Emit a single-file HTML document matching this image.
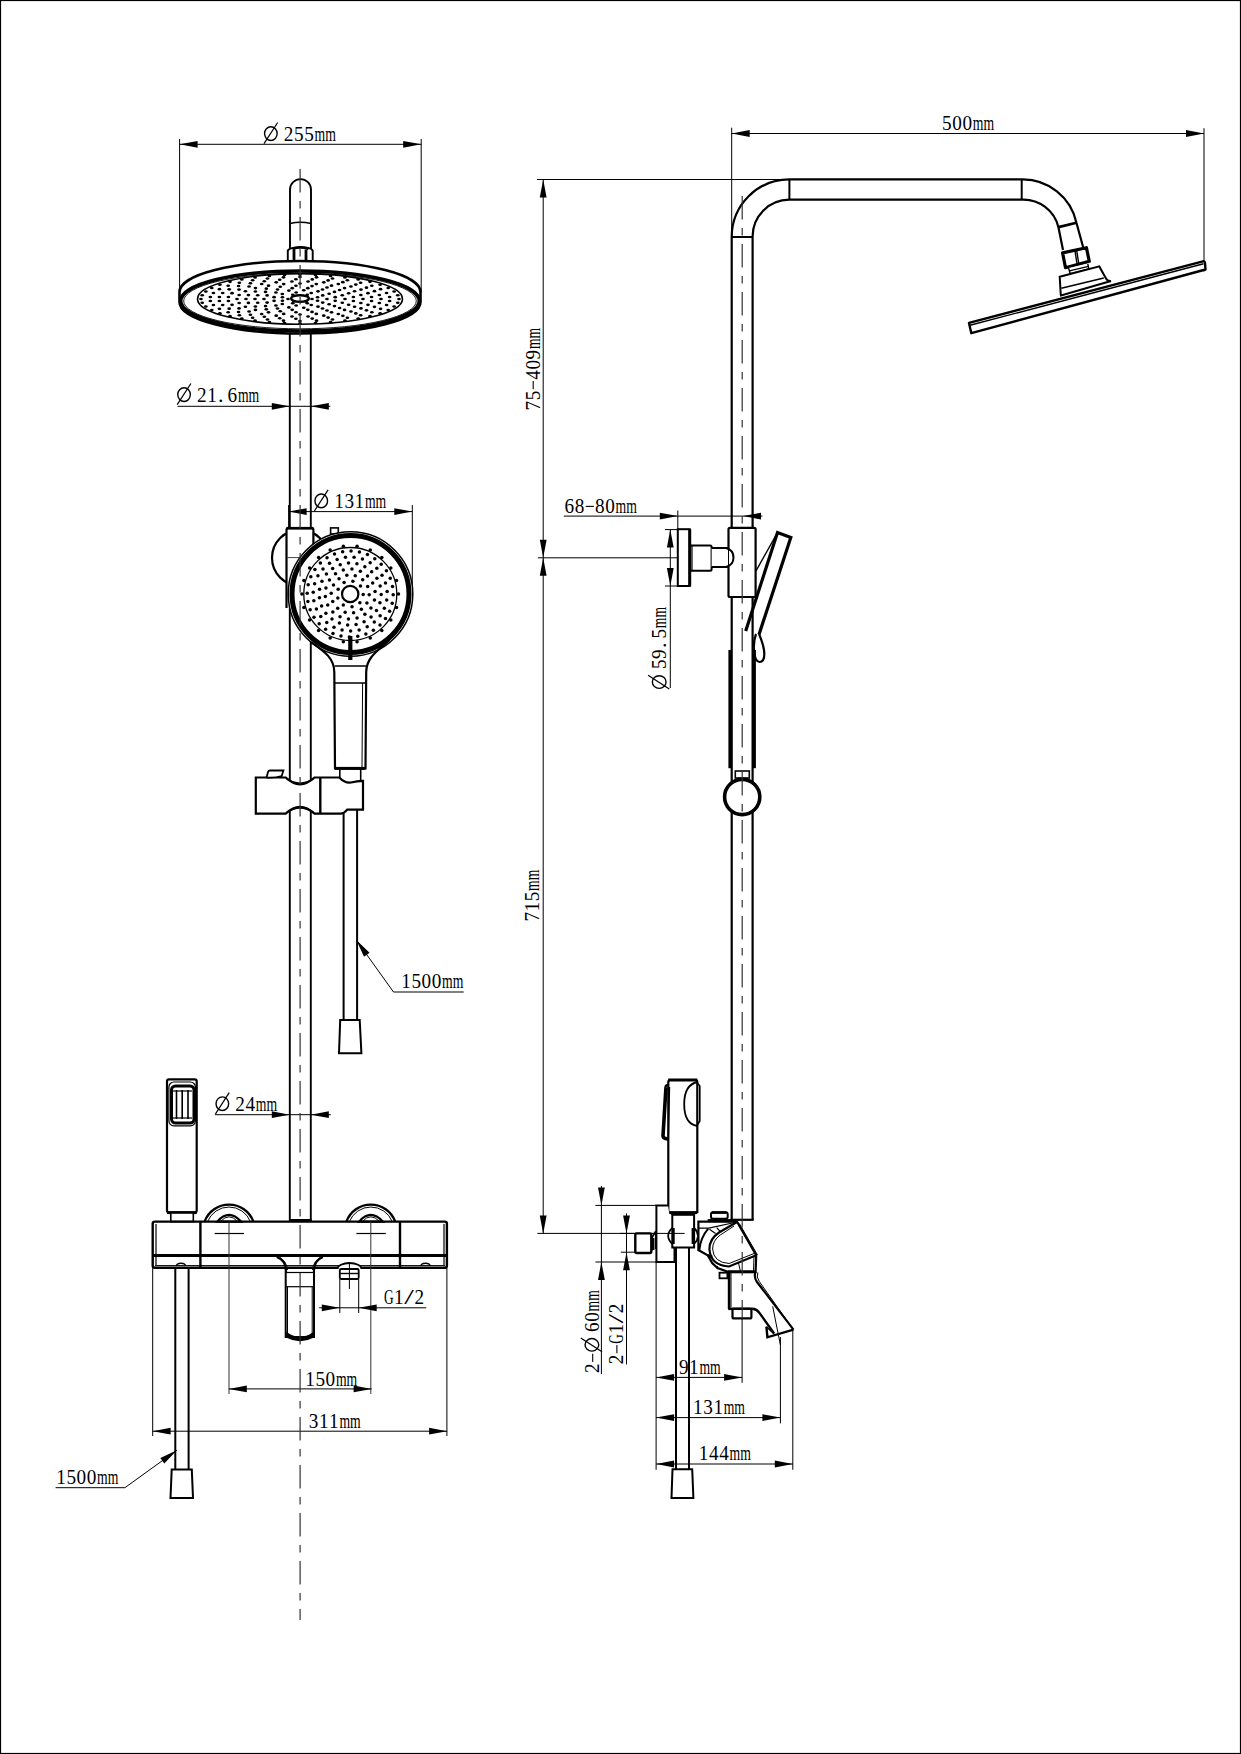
<!DOCTYPE html>
<html><head><meta charset="utf-8"><style>
html,body{margin:0;padding:0;background:#fff;}
svg{display:block;}
text{font-family:"Liberation Serif",serif;fill:#000;}
</style></head><body>
<svg width="1241" height="1754" viewBox="0 0 1241 1754">
<rect x="0.5" y="0.5" width="1240" height="1753" rx="0" fill="none" stroke="#000" stroke-width="1.2"/>
<line x1="179.6" y1="139" x2="179.6" y2="292" stroke="#000" stroke-width="1" />
<line x1="421.2" y1="139" x2="421.2" y2="292" stroke="#000" stroke-width="1" />
<line x1="179.6" y1="144.3" x2="421.2" y2="144.3" stroke="#000" stroke-width="1" />
<path d="M179.6,144.3 L197.6,140.9 L197.6,147.7 Z" fill="#000"/>
<path d="M421.2,144.3 L403.2,147.7 L403.2,140.9 Z" fill="#000"/>
<ellipse cx="270.85" cy="133.6" rx="6.3" ry="6.85" fill="none" stroke="#000" stroke-width="1.4"/>
<line x1="264" y1="143.7" x2="277.7" y2="122.5" stroke="#000" stroke-width="1.2"/>
<text x="283.8" y="140.7" font-size="22" textLength="9.6" lengthAdjust="spacingAndGlyphs">2</text>
<text x="294" y="140.7" font-size="22" textLength="9.6" lengthAdjust="spacingAndGlyphs">5</text>
<text x="304.2" y="140.7" font-size="22" textLength="9.6" lengthAdjust="spacingAndGlyphs">5</text>
<text x="314.5" y="140.7" font-size="22" textLength="21.3" lengthAdjust="spacingAndGlyphs">mm</text>
<path d="M290,248 L290,189.6 A10.5,10.5 0 0 1 311,189.6 L311,248" fill="none" stroke="#000" stroke-width="1.9" />
<path d="M290,223.5 Q300.5,221 311,223.5" fill="none" stroke="#000" stroke-width="1.5" />
<path d="M287.8,261 L287.8,250.5 L290,248.6 Q300.5,245.5 311,248.6 L312.7,250.5 L312.7,261" fill="#fff" stroke="#000" stroke-width="1.9" />
<path d="M292.5,249 Q300.5,246 308.5,249" fill="none" stroke="#000" stroke-width="2.6" />
<line x1="294" y1="249.5" x2="294" y2="261" stroke="#000" stroke-width="2.8" />
<line x1="306" y1="249.5" x2="306" y2="261" stroke="#000" stroke-width="2.8" />
<path d="M179.5,292 A120.5,31 0 0 1 420.5,292 L420.5,302 A120.5,31.5 0 0 1 179.5,302 Z" fill="#fff" stroke="#000" stroke-width="2.6" />
<ellipse cx="300" cy="301" rx="119.3" ry="30" fill="none" stroke="#000" stroke-width="3.6"/>
<ellipse cx="300" cy="301" rx="116.3" ry="27.8" fill="none" stroke="#000" stroke-width="0.9"/>
<ellipse cx="300" cy="298.9" rx="102.5" ry="25.3" fill="none" stroke="#000" stroke-width="1.6"/>
<ellipse cx="399" cy="299" rx="1.85" ry="1.3" fill="#000"/>
<ellipse cx="397.78" cy="302.79" rx="1.85" ry="1.3" fill="#000"/>
<ellipse cx="394.15" cy="306.5" rx="1.85" ry="1.3" fill="#000"/>
<ellipse cx="388.21" cy="310.01" rx="1.85" ry="1.3" fill="#000"/>
<ellipse cx="380.09" cy="313.26" rx="1.85" ry="1.3" fill="#000"/>
<ellipse cx="370" cy="316.15" rx="1.85" ry="1.3" fill="#000"/>
<ellipse cx="358.19" cy="318.62" rx="1.85" ry="1.3" fill="#000"/>
<ellipse cx="344.95" cy="320.61" rx="1.85" ry="1.3" fill="#000"/>
<ellipse cx="330.59" cy="322.07" rx="1.85" ry="1.3" fill="#000"/>
<ellipse cx="315.49" cy="322.96" rx="1.85" ry="1.3" fill="#000"/>
<ellipse cx="300" cy="323.25" rx="1.85" ry="1.3" fill="#000"/>
<ellipse cx="284.51" cy="322.96" rx="1.85" ry="1.3" fill="#000"/>
<ellipse cx="269.41" cy="322.07" rx="1.85" ry="1.3" fill="#000"/>
<ellipse cx="255.05" cy="320.61" rx="1.85" ry="1.3" fill="#000"/>
<ellipse cx="241.81" cy="318.62" rx="1.85" ry="1.3" fill="#000"/>
<ellipse cx="230" cy="316.15" rx="1.85" ry="1.3" fill="#000"/>
<ellipse cx="219.91" cy="313.26" rx="1.85" ry="1.3" fill="#000"/>
<ellipse cx="211.79" cy="310.01" rx="1.85" ry="1.3" fill="#000"/>
<ellipse cx="205.85" cy="306.5" rx="1.85" ry="1.3" fill="#000"/>
<ellipse cx="202.22" cy="302.79" rx="1.85" ry="1.3" fill="#000"/>
<ellipse cx="201" cy="299" rx="1.85" ry="1.3" fill="#000"/>
<ellipse cx="202.22" cy="295.21" rx="1.85" ry="1.3" fill="#000"/>
<ellipse cx="205.85" cy="291.5" rx="1.85" ry="1.3" fill="#000"/>
<ellipse cx="211.79" cy="287.99" rx="1.85" ry="1.3" fill="#000"/>
<ellipse cx="219.91" cy="284.74" rx="1.85" ry="1.3" fill="#000"/>
<ellipse cx="230" cy="281.85" rx="1.85" ry="1.3" fill="#000"/>
<ellipse cx="241.81" cy="279.38" rx="1.85" ry="1.3" fill="#000"/>
<ellipse cx="255.05" cy="277.39" rx="1.85" ry="1.3" fill="#000"/>
<ellipse cx="269.41" cy="275.93" rx="1.85" ry="1.3" fill="#000"/>
<ellipse cx="284.51" cy="275.04" rx="1.85" ry="1.3" fill="#000"/>
<ellipse cx="300" cy="274.75" rx="1.85" ry="1.3" fill="#000"/>
<ellipse cx="315.49" cy="275.04" rx="1.85" ry="1.3" fill="#000"/>
<ellipse cx="330.59" cy="275.93" rx="1.85" ry="1.3" fill="#000"/>
<ellipse cx="344.95" cy="277.39" rx="1.85" ry="1.3" fill="#000"/>
<ellipse cx="358.19" cy="279.38" rx="1.85" ry="1.3" fill="#000"/>
<ellipse cx="370" cy="281.85" rx="1.85" ry="1.3" fill="#000"/>
<ellipse cx="380.09" cy="284.74" rx="1.85" ry="1.3" fill="#000"/>
<ellipse cx="388.21" cy="287.99" rx="1.85" ry="1.3" fill="#000"/>
<ellipse cx="394.15" cy="291.5" rx="1.85" ry="1.3" fill="#000"/>
<ellipse cx="397.78" cy="295.21" rx="1.85" ry="1.3" fill="#000"/>
<ellipse cx="389.62" cy="301.03" rx="1.85" ry="1.3" fill="#000"/>
<ellipse cx="386.56" cy="305.03" rx="1.85" ry="1.3" fill="#000"/>
<ellipse cx="380.56" cy="308.83" rx="1.85" ry="1.3" fill="#000"/>
<ellipse cx="371.82" cy="312.29" rx="1.85" ry="1.3" fill="#000"/>
<ellipse cx="360.63" cy="315.3" rx="1.85" ry="1.3" fill="#000"/>
<ellipse cx="347.38" cy="317.75" rx="1.85" ry="1.3" fill="#000"/>
<ellipse cx="332.51" cy="319.56" rx="1.85" ry="1.3" fill="#000"/>
<ellipse cx="316.54" cy="320.67" rx="1.85" ry="1.3" fill="#000"/>
<ellipse cx="300" cy="321.05" rx="1.85" ry="1.3" fill="#000"/>
<ellipse cx="283.46" cy="320.67" rx="1.85" ry="1.3" fill="#000"/>
<ellipse cx="267.49" cy="319.56" rx="1.85" ry="1.3" fill="#000"/>
<ellipse cx="252.62" cy="317.75" rx="1.85" ry="1.3" fill="#000"/>
<ellipse cx="239.37" cy="315.3" rx="1.85" ry="1.3" fill="#000"/>
<ellipse cx="228.18" cy="312.29" rx="1.85" ry="1.3" fill="#000"/>
<ellipse cx="219.44" cy="308.83" rx="1.85" ry="1.3" fill="#000"/>
<ellipse cx="213.44" cy="305.03" rx="1.85" ry="1.3" fill="#000"/>
<ellipse cx="210.38" cy="301.03" rx="1.85" ry="1.3" fill="#000"/>
<ellipse cx="210.38" cy="296.97" rx="1.85" ry="1.3" fill="#000"/>
<ellipse cx="213.44" cy="292.97" rx="1.85" ry="1.3" fill="#000"/>
<ellipse cx="219.44" cy="289.17" rx="1.85" ry="1.3" fill="#000"/>
<ellipse cx="228.18" cy="285.71" rx="1.85" ry="1.3" fill="#000"/>
<ellipse cx="239.37" cy="282.7" rx="1.85" ry="1.3" fill="#000"/>
<ellipse cx="252.62" cy="280.25" rx="1.85" ry="1.3" fill="#000"/>
<ellipse cx="267.49" cy="278.44" rx="1.85" ry="1.3" fill="#000"/>
<ellipse cx="283.46" cy="277.33" rx="1.85" ry="1.3" fill="#000"/>
<ellipse cx="300" cy="276.95" rx="1.85" ry="1.3" fill="#000"/>
<ellipse cx="316.54" cy="277.33" rx="1.85" ry="1.3" fill="#000"/>
<ellipse cx="332.51" cy="278.44" rx="1.85" ry="1.3" fill="#000"/>
<ellipse cx="347.38" cy="280.25" rx="1.85" ry="1.3" fill="#000"/>
<ellipse cx="360.63" cy="282.7" rx="1.85" ry="1.3" fill="#000"/>
<ellipse cx="371.82" cy="285.71" rx="1.85" ry="1.3" fill="#000"/>
<ellipse cx="380.56" cy="289.17" rx="1.85" ry="1.3" fill="#000"/>
<ellipse cx="386.56" cy="292.97" rx="1.85" ry="1.3" fill="#000"/>
<ellipse cx="389.62" cy="296.97" rx="1.85" ry="1.3" fill="#000"/>
<ellipse cx="381" cy="299" rx="1.85" ry="1.3" fill="#000"/>
<ellipse cx="379.34" cy="302.99" rx="1.85" ry="1.3" fill="#000"/>
<ellipse cx="374.44" cy="306.83" rx="1.85" ry="1.3" fill="#000"/>
<ellipse cx="366.48" cy="310.34" rx="1.85" ry="1.3" fill="#000"/>
<ellipse cx="355.81" cy="313.38" rx="1.85" ry="1.3" fill="#000"/>
<ellipse cx="342.85" cy="315.84" rx="1.85" ry="1.3" fill="#000"/>
<ellipse cx="328.13" cy="317.61" rx="1.85" ry="1.3" fill="#000"/>
<ellipse cx="312.27" cy="318.62" rx="1.85" ry="1.3" fill="#000"/>
<ellipse cx="295.9" cy="318.82" rx="1.85" ry="1.3" fill="#000"/>
<ellipse cx="279.7" cy="318.21" rx="1.85" ry="1.3" fill="#000"/>
<ellipse cx="264.33" cy="316.82" rx="1.85" ry="1.3" fill="#000"/>
<ellipse cx="250.42" cy="314.69" rx="1.85" ry="1.3" fill="#000"/>
<ellipse cx="238.54" cy="311.93" rx="1.85" ry="1.3" fill="#000"/>
<ellipse cx="229.18" cy="308.63" rx="1.85" ry="1.3" fill="#000"/>
<ellipse cx="222.71" cy="304.94" rx="1.85" ry="1.3" fill="#000"/>
<ellipse cx="219.42" cy="301.01" rx="1.85" ry="1.3" fill="#000"/>
<ellipse cx="219.42" cy="296.99" rx="1.85" ry="1.3" fill="#000"/>
<ellipse cx="222.71" cy="293.06" rx="1.85" ry="1.3" fill="#000"/>
<ellipse cx="229.18" cy="289.37" rx="1.85" ry="1.3" fill="#000"/>
<ellipse cx="238.54" cy="286.07" rx="1.85" ry="1.3" fill="#000"/>
<ellipse cx="250.42" cy="283.31" rx="1.85" ry="1.3" fill="#000"/>
<ellipse cx="264.33" cy="281.18" rx="1.85" ry="1.3" fill="#000"/>
<ellipse cx="279.7" cy="279.79" rx="1.85" ry="1.3" fill="#000"/>
<ellipse cx="295.9" cy="279.18" rx="1.85" ry="1.3" fill="#000"/>
<ellipse cx="312.27" cy="279.38" rx="1.85" ry="1.3" fill="#000"/>
<ellipse cx="328.13" cy="280.39" rx="1.85" ry="1.3" fill="#000"/>
<ellipse cx="342.85" cy="282.16" rx="1.85" ry="1.3" fill="#000"/>
<ellipse cx="355.81" cy="284.62" rx="1.85" ry="1.3" fill="#000"/>
<ellipse cx="366.48" cy="287.66" rx="1.85" ry="1.3" fill="#000"/>
<ellipse cx="374.44" cy="291.17" rx="1.85" ry="1.3" fill="#000"/>
<ellipse cx="379.34" cy="295.01" rx="1.85" ry="1.3" fill="#000"/>
<ellipse cx="371.55" cy="300.98" rx="1.85" ry="1.3" fill="#000"/>
<ellipse cx="367.96" cy="304.83" rx="1.85" ry="1.3" fill="#000"/>
<ellipse cx="360.96" cy="308.39" rx="1.85" ry="1.3" fill="#000"/>
<ellipse cx="350.91" cy="311.47" rx="1.85" ry="1.3" fill="#000"/>
<ellipse cx="338.31" cy="313.94" rx="1.85" ry="1.3" fill="#000"/>
<ellipse cx="323.78" cy="315.65" rx="1.85" ry="1.3" fill="#000"/>
<ellipse cx="308.06" cy="316.53" rx="1.85" ry="1.3" fill="#000"/>
<ellipse cx="291.94" cy="316.53" rx="1.85" ry="1.3" fill="#000"/>
<ellipse cx="276.22" cy="315.65" rx="1.85" ry="1.3" fill="#000"/>
<ellipse cx="261.69" cy="313.94" rx="1.85" ry="1.3" fill="#000"/>
<ellipse cx="249.09" cy="311.47" rx="1.85" ry="1.3" fill="#000"/>
<ellipse cx="239.04" cy="308.39" rx="1.85" ry="1.3" fill="#000"/>
<ellipse cx="232.04" cy="304.83" rx="1.85" ry="1.3" fill="#000"/>
<ellipse cx="228.45" cy="300.98" rx="1.85" ry="1.3" fill="#000"/>
<ellipse cx="228.45" cy="297.02" rx="1.85" ry="1.3" fill="#000"/>
<ellipse cx="232.04" cy="293.17" rx="1.85" ry="1.3" fill="#000"/>
<ellipse cx="239.04" cy="289.61" rx="1.85" ry="1.3" fill="#000"/>
<ellipse cx="249.09" cy="286.53" rx="1.85" ry="1.3" fill="#000"/>
<ellipse cx="261.69" cy="284.06" rx="1.85" ry="1.3" fill="#000"/>
<ellipse cx="276.22" cy="282.35" rx="1.85" ry="1.3" fill="#000"/>
<ellipse cx="291.94" cy="281.47" rx="1.85" ry="1.3" fill="#000"/>
<ellipse cx="308.06" cy="281.47" rx="1.85" ry="1.3" fill="#000"/>
<ellipse cx="323.78" cy="282.35" rx="1.85" ry="1.3" fill="#000"/>
<ellipse cx="338.31" cy="284.06" rx="1.85" ry="1.3" fill="#000"/>
<ellipse cx="350.91" cy="286.53" rx="1.85" ry="1.3" fill="#000"/>
<ellipse cx="360.96" cy="289.61" rx="1.85" ry="1.3" fill="#000"/>
<ellipse cx="367.96" cy="293.17" rx="1.85" ry="1.3" fill="#000"/>
<ellipse cx="371.55" cy="297.02" rx="1.85" ry="1.3" fill="#000"/>
<ellipse cx="363" cy="299" rx="1.85" ry="1.3" fill="#000"/>
<ellipse cx="360.85" cy="302.99" rx="1.85" ry="1.3" fill="#000"/>
<ellipse cx="354.56" cy="306.72" rx="1.85" ry="1.3" fill="#000"/>
<ellipse cx="344.55" cy="309.91" rx="1.85" ry="1.3" fill="#000"/>
<ellipse cx="331.5" cy="312.37" rx="1.85" ry="1.3" fill="#000"/>
<ellipse cx="316.31" cy="313.91" rx="1.85" ry="1.3" fill="#000"/>
<ellipse cx="300" cy="314.44" rx="1.85" ry="1.3" fill="#000"/>
<ellipse cx="283.69" cy="313.91" rx="1.85" ry="1.3" fill="#000"/>
<ellipse cx="268.5" cy="312.37" rx="1.85" ry="1.3" fill="#000"/>
<ellipse cx="255.45" cy="309.91" rx="1.85" ry="1.3" fill="#000"/>
<ellipse cx="245.44" cy="306.72" rx="1.85" ry="1.3" fill="#000"/>
<ellipse cx="239.15" cy="302.99" rx="1.85" ry="1.3" fill="#000"/>
<ellipse cx="237" cy="299" rx="1.85" ry="1.3" fill="#000"/>
<ellipse cx="239.15" cy="295.01" rx="1.85" ry="1.3" fill="#000"/>
<ellipse cx="245.44" cy="291.28" rx="1.85" ry="1.3" fill="#000"/>
<ellipse cx="255.45" cy="288.09" rx="1.85" ry="1.3" fill="#000"/>
<ellipse cx="268.5" cy="285.63" rx="1.85" ry="1.3" fill="#000"/>
<ellipse cx="283.69" cy="284.09" rx="1.85" ry="1.3" fill="#000"/>
<ellipse cx="300" cy="283.56" rx="1.85" ry="1.3" fill="#000"/>
<ellipse cx="316.31" cy="284.09" rx="1.85" ry="1.3" fill="#000"/>
<ellipse cx="331.5" cy="285.63" rx="1.85" ry="1.3" fill="#000"/>
<ellipse cx="344.55" cy="288.09" rx="1.85" ry="1.3" fill="#000"/>
<ellipse cx="354.56" cy="291.28" rx="1.85" ry="1.3" fill="#000"/>
<ellipse cx="360.85" cy="295.01" rx="1.85" ry="1.3" fill="#000"/>
<ellipse cx="353.4" cy="300.97" rx="1.85" ry="1.3" fill="#000"/>
<ellipse cx="348.65" cy="304.74" rx="1.85" ry="1.3" fill="#000"/>
<ellipse cx="339.58" cy="308" rx="1.85" ry="1.3" fill="#000"/>
<ellipse cx="327" cy="310.46" rx="1.85" ry="1.3" fill="#000"/>
<ellipse cx="312.02" cy="311.9" rx="1.85" ry="1.3" fill="#000"/>
<ellipse cx="295.96" cy="312.19" rx="1.85" ry="1.3" fill="#000"/>
<ellipse cx="280.27" cy="311.32" rx="1.85" ry="1.3" fill="#000"/>
<ellipse cx="266.33" cy="309.34" rx="1.85" ry="1.3" fill="#000"/>
<ellipse cx="255.38" cy="306.45" rx="1.85" ry="1.3" fill="#000"/>
<ellipse cx="248.4" cy="302.9" rx="1.85" ry="1.3" fill="#000"/>
<ellipse cx="246" cy="299" rx="1.85" ry="1.3" fill="#000"/>
<ellipse cx="248.4" cy="295.1" rx="1.85" ry="1.3" fill="#000"/>
<ellipse cx="255.38" cy="291.55" rx="1.85" ry="1.3" fill="#000"/>
<ellipse cx="266.33" cy="288.66" rx="1.85" ry="1.3" fill="#000"/>
<ellipse cx="280.27" cy="286.68" rx="1.85" ry="1.3" fill="#000"/>
<ellipse cx="295.96" cy="285.81" rx="1.85" ry="1.3" fill="#000"/>
<ellipse cx="312.02" cy="286.1" rx="1.85" ry="1.3" fill="#000"/>
<ellipse cx="327" cy="287.54" rx="1.85" ry="1.3" fill="#000"/>
<ellipse cx="339.58" cy="290" rx="1.85" ry="1.3" fill="#000"/>
<ellipse cx="348.65" cy="293.26" rx="1.85" ry="1.3" fill="#000"/>
<ellipse cx="353.4" cy="297.03" rx="1.85" ry="1.3" fill="#000"/>
<ellipse cx="345" cy="299" rx="1.85" ry="1.3" fill="#000"/>
<ellipse cx="342.29" cy="302.77" rx="1.85" ry="1.3" fill="#000"/>
<ellipse cx="334.47" cy="306.09" rx="1.85" ry="1.3" fill="#000"/>
<ellipse cx="322.5" cy="308.55" rx="1.85" ry="1.3" fill="#000"/>
<ellipse cx="307.81" cy="309.86" rx="1.85" ry="1.3" fill="#000"/>
<ellipse cx="292.19" cy="309.86" rx="1.85" ry="1.3" fill="#000"/>
<ellipse cx="277.5" cy="308.55" rx="1.85" ry="1.3" fill="#000"/>
<ellipse cx="265.53" cy="306.09" rx="1.85" ry="1.3" fill="#000"/>
<ellipse cx="257.71" cy="302.77" rx="1.85" ry="1.3" fill="#000"/>
<ellipse cx="255" cy="299" rx="1.85" ry="1.3" fill="#000"/>
<ellipse cx="257.71" cy="295.23" rx="1.85" ry="1.3" fill="#000"/>
<ellipse cx="265.53" cy="291.91" rx="1.85" ry="1.3" fill="#000"/>
<ellipse cx="277.5" cy="289.45" rx="1.85" ry="1.3" fill="#000"/>
<ellipse cx="292.19" cy="288.14" rx="1.85" ry="1.3" fill="#000"/>
<ellipse cx="307.81" cy="288.14" rx="1.85" ry="1.3" fill="#000"/>
<ellipse cx="322.5" cy="289.45" rx="1.85" ry="1.3" fill="#000"/>
<ellipse cx="334.47" cy="291.91" rx="1.85" ry="1.3" fill="#000"/>
<ellipse cx="342.29" cy="295.23" rx="1.85" ry="1.3" fill="#000"/>
<ellipse cx="335.21" cy="300.83" rx="1.85" ry="1.3" fill="#000"/>
<ellipse cx="329.12" cy="304.18" rx="1.85" ry="1.3" fill="#000"/>
<ellipse cx="318" cy="306.64" rx="1.85" ry="1.3" fill="#000"/>
<ellipse cx="303.76" cy="307.77" rx="1.85" ry="1.3" fill="#000"/>
<ellipse cx="288.88" cy="307.39" rx="1.85" ry="1.3" fill="#000"/>
<ellipse cx="275.91" cy="305.55" rx="1.85" ry="1.3" fill="#000"/>
<ellipse cx="267.11" cy="302.59" rx="1.85" ry="1.3" fill="#000"/>
<ellipse cx="264" cy="299" rx="1.85" ry="1.3" fill="#000"/>
<ellipse cx="267.11" cy="295.41" rx="1.85" ry="1.3" fill="#000"/>
<ellipse cx="275.91" cy="292.45" rx="1.85" ry="1.3" fill="#000"/>
<ellipse cx="288.88" cy="290.61" rx="1.85" ry="1.3" fill="#000"/>
<ellipse cx="303.76" cy="290.23" rx="1.85" ry="1.3" fill="#000"/>
<ellipse cx="318" cy="291.36" rx="1.85" ry="1.3" fill="#000"/>
<ellipse cx="329.12" cy="293.82" rx="1.85" ry="1.3" fill="#000"/>
<ellipse cx="335.21" cy="297.17" rx="1.85" ry="1.3" fill="#000"/>
<ellipse cx="327" cy="299" rx="1.85" ry="1.3" fill="#000"/>
<ellipse cx="322.71" cy="302.58" rx="1.85" ry="1.3" fill="#000"/>
<ellipse cx="311.22" cy="305.02" rx="1.85" ry="1.3" fill="#000"/>
<ellipse cx="296.16" cy="305.55" rx="1.85" ry="1.3" fill="#000"/>
<ellipse cx="282.32" cy="304" rx="1.85" ry="1.3" fill="#000"/>
<ellipse cx="274.09" cy="300.86" rx="1.85" ry="1.3" fill="#000"/>
<ellipse cx="274.09" cy="297.14" rx="1.85" ry="1.3" fill="#000"/>
<ellipse cx="282.32" cy="294" rx="1.85" ry="1.3" fill="#000"/>
<ellipse cx="296.16" cy="292.45" rx="1.85" ry="1.3" fill="#000"/>
<ellipse cx="311.22" cy="292.98" rx="1.85" ry="1.3" fill="#000"/>
<ellipse cx="322.71" cy="295.42" rx="1.85" ry="1.3" fill="#000"/>
<ellipse cx="317.55" cy="300.78" rx="1.85" ry="1.3" fill="#000"/>
<ellipse cx="307.27" cy="303.3" rx="1.85" ry="1.3" fill="#000"/>
<ellipse cx="292.73" cy="303.3" rx="1.85" ry="1.3" fill="#000"/>
<ellipse cx="282.45" cy="300.78" rx="1.85" ry="1.3" fill="#000"/>
<ellipse cx="282.45" cy="297.22" rx="1.85" ry="1.3" fill="#000"/>
<ellipse cx="292.73" cy="294.7" rx="1.85" ry="1.3" fill="#000"/>
<ellipse cx="307.27" cy="294.7" rx="1.85" ry="1.3" fill="#000"/>
<ellipse cx="317.55" cy="297.22" rx="1.85" ry="1.3" fill="#000"/>
<ellipse cx="312" cy="299" rx="1.85" ry="1.3" fill="#000"/>
<ellipse cx="306" cy="301.55" rx="1.85" ry="1.3" fill="#000"/>
<ellipse cx="294" cy="301.55" rx="1.85" ry="1.3" fill="#000"/>
<ellipse cx="288" cy="299" rx="1.85" ry="1.3" fill="#000"/>
<ellipse cx="294" cy="296.45" rx="1.85" ry="1.3" fill="#000"/>
<ellipse cx="306" cy="296.45" rx="1.85" ry="1.3" fill="#000"/>
<ellipse cx="300" cy="298.5" rx="8.8" ry="3.2" fill="#fff" stroke="#000" stroke-width="2.4"/>
<line x1="289.8" y1="333" x2="289.8" y2="1221" stroke="#000" stroke-width="1.9" />
<line x1="310.8" y1="333" x2="310.8" y2="1221" stroke="#000" stroke-width="1.9" />
<line x1="177.6" y1="406.3" x2="330.3" y2="406.3" stroke="#000" stroke-width="1" />
<path d="M289.8,406.3 L271.8,409.7 L271.8,402.9 Z" fill="#000"/>
<path d="M310.8,406.3 L328.8,402.9 L328.8,409.7 Z" fill="#000"/>
<ellipse cx="184.05" cy="394.6" rx="6.3" ry="6.85" fill="none" stroke="#000" stroke-width="1.4"/>
<line x1="177.2" y1="404.7" x2="190.9" y2="383.5" stroke="#000" stroke-width="1.2"/>
<text x="197" y="401.7" font-size="22" textLength="9.6" lengthAdjust="spacingAndGlyphs">2</text>
<text x="207.2" y="401.7" font-size="22" textLength="9.6" lengthAdjust="spacingAndGlyphs">1</text>
<text x="218" y="401.7" font-size="22">.</text>
<text x="227.6" y="401.7" font-size="22" textLength="9.6" lengthAdjust="spacingAndGlyphs">6</text>
<text x="237.9" y="401.7" font-size="22" textLength="21.3" lengthAdjust="spacingAndGlyphs">mm</text>
<line x1="288.6" y1="505" x2="288.6" y2="528" stroke="#000" stroke-width="1" />
<line x1="412.3" y1="505" x2="412.3" y2="594" stroke="#000" stroke-width="1" />
<line x1="288.6" y1="511.6" x2="412.3" y2="511.6" stroke="#000" stroke-width="1" />
<path d="M288.6,511.6 L306.6,508.2 L306.6,515 Z" fill="#000"/>
<path d="M412.3,511.6 L394.3,515 L394.3,508.2 Z" fill="#000"/>
<ellipse cx="321.25" cy="500.9" rx="6.3" ry="6.85" fill="none" stroke="#000" stroke-width="1.4"/>
<line x1="314.4" y1="511" x2="328.1" y2="489.8" stroke="#000" stroke-width="1.2"/>
<text x="334.2" y="508" font-size="22" textLength="9.6" lengthAdjust="spacingAndGlyphs">1</text>
<text x="344.4" y="508" font-size="22" textLength="9.6" lengthAdjust="spacingAndGlyphs">3</text>
<text x="354.6" y="508" font-size="22" textLength="9.6" lengthAdjust="spacingAndGlyphs">1</text>
<text x="364.9" y="508" font-size="22" textLength="21.3" lengthAdjust="spacingAndGlyphs">mm</text>
<circle cx="300" cy="557.8" r="28" fill="#fff" stroke="#000" stroke-width="2.2"/>
<rect x="286.5" y="528.2" width="26.9" height="80" fill="#fff"/>
<path d="M286.5,608 L286.5,530 Q286.5,528.2 288.5,528.2 L311.4,528.2 Q313.4,528.2 313.4,530 L313.4,580" fill="none" stroke="#000" stroke-width="2.2" />
<line x1="286.5" y1="528.2" x2="313.4" y2="528.2" stroke="#000" stroke-width="2.6" />
<line x1="287" y1="557.6" x2="314.5" y2="557.6" stroke="#444" stroke-width="1" />
<rect x="330.6" y="527.9" width="7.7" height="6.1" rx="0" fill="#fff" stroke="#000" stroke-width="1.6"/>
<circle cx="350.5" cy="594" r="62.3" fill="#fff" stroke="#000" stroke-width="1.5"/>
<circle cx="350.5" cy="594" r="58.5" fill="none" stroke="#000" stroke-width="5"/>
<circle cx="350.3" cy="594" r="46.5" fill="none" stroke="#000" stroke-width="1.3"/>
<circle cx="350.2" cy="594" r="8.2" fill="none" stroke="#000" stroke-width="2.2"/>
<circle cx="357.07" cy="546.19" r="1.75" fill="#000"/>
<circle cx="370.26" cy="550.06" r="1.75" fill="#000"/>
<circle cx="381.83" cy="557.5" r="1.75" fill="#000"/>
<circle cx="390.83" cy="567.89" r="1.75" fill="#000"/>
<circle cx="396.54" cy="580.39" r="1.75" fill="#000"/>
<circle cx="398.5" cy="594" r="1.75" fill="#000"/>
<circle cx="396.54" cy="607.61" r="1.75" fill="#000"/>
<circle cx="390.83" cy="620.11" r="1.75" fill="#000"/>
<circle cx="381.83" cy="630.5" r="1.75" fill="#000"/>
<circle cx="370.26" cy="637.94" r="1.75" fill="#000"/>
<circle cx="357.07" cy="641.81" r="1.75" fill="#000"/>
<circle cx="343.33" cy="641.81" r="1.75" fill="#000"/>
<circle cx="330.14" cy="637.94" r="1.75" fill="#000"/>
<circle cx="318.57" cy="630.5" r="1.75" fill="#000"/>
<circle cx="309.57" cy="620.11" r="1.75" fill="#000"/>
<circle cx="303.86" cy="607.61" r="1.75" fill="#000"/>
<circle cx="301.9" cy="594" r="1.75" fill="#000"/>
<circle cx="303.86" cy="580.39" r="1.75" fill="#000"/>
<circle cx="309.57" cy="567.89" r="1.75" fill="#000"/>
<circle cx="318.57" cy="557.5" r="1.75" fill="#000"/>
<circle cx="330.14" cy="550.06" r="1.75" fill="#000"/>
<circle cx="343.33" cy="546.19" r="1.75" fill="#000"/>
<circle cx="351.04" cy="551.01" r="1.75" fill="#000"/>
<circle cx="359.42" cy="552" r="1.75" fill="#000"/>
<circle cx="367.43" cy="554.6" r="1.75" fill="#000"/>
<circle cx="374.79" cy="558.72" r="1.75" fill="#000"/>
<circle cx="381.2" cy="564.2" r="1.75" fill="#000"/>
<circle cx="386.42" cy="570.82" r="1.75" fill="#000"/>
<circle cx="390.24" cy="578.33" r="1.75" fill="#000"/>
<circle cx="392.53" cy="586.44" r="1.75" fill="#000"/>
<circle cx="393.19" cy="594.84" r="1.75" fill="#000"/>
<circle cx="392.2" cy="603.22" r="1.75" fill="#000"/>
<circle cx="389.6" cy="611.23" r="1.75" fill="#000"/>
<circle cx="385.48" cy="618.59" r="1.75" fill="#000"/>
<circle cx="380" cy="625" r="1.75" fill="#000"/>
<circle cx="373.38" cy="630.22" r="1.75" fill="#000"/>
<circle cx="365.87" cy="634.04" r="1.75" fill="#000"/>
<circle cx="357.76" cy="636.33" r="1.75" fill="#000"/>
<circle cx="349.36" cy="636.99" r="1.75" fill="#000"/>
<circle cx="340.98" cy="636" r="1.75" fill="#000"/>
<circle cx="332.97" cy="633.4" r="1.75" fill="#000"/>
<circle cx="325.61" cy="629.28" r="1.75" fill="#000"/>
<circle cx="319.2" cy="623.8" r="1.75" fill="#000"/>
<circle cx="313.98" cy="617.18" r="1.75" fill="#000"/>
<circle cx="310.16" cy="609.67" r="1.75" fill="#000"/>
<circle cx="307.87" cy="601.56" r="1.75" fill="#000"/>
<circle cx="307.21" cy="593.16" r="1.75" fill="#000"/>
<circle cx="308.2" cy="584.78" r="1.75" fill="#000"/>
<circle cx="310.8" cy="576.77" r="1.75" fill="#000"/>
<circle cx="314.92" cy="569.41" r="1.75" fill="#000"/>
<circle cx="320.4" cy="563" r="1.75" fill="#000"/>
<circle cx="327.02" cy="557.78" r="1.75" fill="#000"/>
<circle cx="334.53" cy="553.96" r="1.75" fill="#000"/>
<circle cx="342.64" cy="551.67" r="1.75" fill="#000"/>
<circle cx="354.07" cy="557.2" r="1.75" fill="#000"/>
<circle cx="362.45" cy="559.09" r="1.75" fill="#000"/>
<circle cx="370.17" cy="562.85" r="1.75" fill="#000"/>
<circle cx="376.82" cy="568.3" r="1.75" fill="#000"/>
<circle cx="382.03" cy="575.13" r="1.75" fill="#000"/>
<circle cx="385.52" cy="582.98" r="1.75" fill="#000"/>
<circle cx="387.11" cy="591.42" r="1.75" fill="#000"/>
<circle cx="386.71" cy="600" r="1.75" fill="#000"/>
<circle cx="384.34" cy="608.26" r="1.75" fill="#000"/>
<circle cx="380.13" cy="615.75" r="1.75" fill="#000"/>
<circle cx="374.31" cy="622.07" r="1.75" fill="#000"/>
<circle cx="367.19" cy="626.87" r="1.75" fill="#000"/>
<circle cx="359.15" cy="629.9" r="1.75" fill="#000"/>
<circle cx="350.63" cy="631" r="1.75" fill="#000"/>
<circle cx="342.09" cy="630.1" r="1.75" fill="#000"/>
<circle cx="333.98" cy="627.26" r="1.75" fill="#000"/>
<circle cx="326.75" cy="622.62" r="1.75" fill="#000"/>
<circle cx="320.78" cy="616.44" r="1.75" fill="#000"/>
<circle cx="316.4" cy="609.05" r="1.75" fill="#000"/>
<circle cx="313.84" cy="600.85" r="1.75" fill="#000"/>
<circle cx="313.24" cy="592.28" r="1.75" fill="#000"/>
<circle cx="314.63" cy="583.8" r="1.75" fill="#000"/>
<circle cx="317.94" cy="575.87" r="1.75" fill="#000"/>
<circle cx="322.99" cy="568.92" r="1.75" fill="#000"/>
<circle cx="329.51" cy="563.33" r="1.75" fill="#000"/>
<circle cx="337.14" cy="559.38" r="1.75" fill="#000"/>
<circle cx="345.48" cy="557.3" r="1.75" fill="#000"/>
<circle cx="356.92" cy="563.74" r="1.75" fill="#000"/>
<circle cx="364.84" cy="566.67" r="1.75" fill="#000"/>
<circle cx="371.67" cy="571.64" r="1.75" fill="#000"/>
<circle cx="376.9" cy="578.26" r="1.75" fill="#000"/>
<circle cx="380.16" cy="586.04" r="1.75" fill="#000"/>
<circle cx="381.2" cy="594.42" r="1.75" fill="#000"/>
<circle cx="379.93" cy="602.77" r="1.75" fill="#000"/>
<circle cx="376.46" cy="610.47" r="1.75" fill="#000"/>
<circle cx="371.05" cy="616.94" r="1.75" fill="#000"/>
<circle cx="364.08" cy="621.72" r="1.75" fill="#000"/>
<circle cx="356.09" cy="624.43" r="1.75" fill="#000"/>
<circle cx="347.66" cy="624.9" r="1.75" fill="#000"/>
<circle cx="339.42" cy="623.07" r="1.75" fill="#000"/>
<circle cx="331.98" cy="619.08" r="1.75" fill="#000"/>
<circle cx="325.89" cy="613.23" r="1.75" fill="#000"/>
<circle cx="321.6" cy="605.96" r="1.75" fill="#000"/>
<circle cx="319.43" cy="597.8" r="1.75" fill="#000"/>
<circle cx="319.55" cy="589.36" r="1.75" fill="#000"/>
<circle cx="321.94" cy="581.26" r="1.75" fill="#000"/>
<circle cx="326.42" cy="574.11" r="1.75" fill="#000"/>
<circle cx="332.67" cy="568.43" r="1.75" fill="#000"/>
<circle cx="340.22" cy="564.65" r="1.75" fill="#000"/>
<circle cx="348.51" cy="563.05" r="1.75" fill="#000"/>
<circle cx="351.94" cy="569.06" r="1.75" fill="#000"/>
<circle cx="360.37" cy="571.16" r="1.75" fill="#000"/>
<circle cx="367.57" cy="576.02" r="1.75" fill="#000"/>
<circle cx="372.67" cy="583.04" r="1.75" fill="#000"/>
<circle cx="375.06" cy="591.39" r="1.75" fill="#000"/>
<circle cx="374.46" cy="600.05" r="1.75" fill="#000"/>
<circle cx="370.93" cy="607.98" r="1.75" fill="#000"/>
<circle cx="364.89" cy="614.23" r="1.75" fill="#000"/>
<circle cx="357.09" cy="618.03" r="1.75" fill="#000"/>
<circle cx="348.46" cy="618.94" r="1.75" fill="#000"/>
<circle cx="340.03" cy="616.84" r="1.75" fill="#000"/>
<circle cx="332.83" cy="611.98" r="1.75" fill="#000"/>
<circle cx="327.73" cy="604.96" r="1.75" fill="#000"/>
<circle cx="325.34" cy="596.61" r="1.75" fill="#000"/>
<circle cx="325.94" cy="587.95" r="1.75" fill="#000"/>
<circle cx="329.47" cy="580.02" r="1.75" fill="#000"/>
<circle cx="335.51" cy="573.77" r="1.75" fill="#000"/>
<circle cx="343.31" cy="569.97" r="1.75" fill="#000"/>
<circle cx="355.25" cy="575.68" r="1.75" fill="#000"/>
<circle cx="362.7" cy="579.69" r="1.75" fill="#000"/>
<circle cx="367.67" cy="586.53" r="1.75" fill="#000"/>
<circle cx="369.18" cy="594.85" r="1.75" fill="#000"/>
<circle cx="366.93" cy="603" r="1.75" fill="#000"/>
<circle cx="361.37" cy="609.37" r="1.75" fill="#000"/>
<circle cx="353.59" cy="612.69" r="1.75" fill="#000"/>
<circle cx="345.15" cy="612.32" r="1.75" fill="#000"/>
<circle cx="337.7" cy="608.31" r="1.75" fill="#000"/>
<circle cx="332.73" cy="601.47" r="1.75" fill="#000"/>
<circle cx="331.22" cy="593.15" r="1.75" fill="#000"/>
<circle cx="333.47" cy="585" r="1.75" fill="#000"/>
<circle cx="339.03" cy="578.63" r="1.75" fill="#000"/>
<circle cx="346.81" cy="575.31" r="1.75" fill="#000"/>
<circle cx="352.9" cy="581.28" r="1.75" fill="#000"/>
<circle cx="360.44" cy="586" r="1.75" fill="#000"/>
<circle cx="363.19" cy="594.45" r="1.75" fill="#000"/>
<circle cx="359.86" cy="602.7" r="1.75" fill="#000"/>
<circle cx="352.01" cy="606.87" r="1.75" fill="#000"/>
<circle cx="343.31" cy="605.02" r="1.75" fill="#000"/>
<circle cx="337.84" cy="598.02" r="1.75" fill="#000"/>
<circle cx="338.15" cy="589.13" r="1.75" fill="#000"/>
<circle cx="344.1" cy="582.52" r="1.75" fill="#000"/>
<line x1="350.3" y1="636" x2="350.3" y2="660" stroke="#000" stroke-width="4.2" />
<path d="M311,642 C325,652 334,658 334.3,672 L335,768.4 L365.5,768.4 L366.2,672 C366.5,658 376,652 389.4,640" fill="none" stroke="#000" stroke-width="2.2" />
<line x1="334.5" y1="666" x2="366" y2="666" stroke="#000" stroke-width="1.5" />
<line x1="335" y1="683" x2="365.5" y2="683" stroke="#000" stroke-width="1.5" />
<line x1="362.6" y1="683" x2="362" y2="768" stroke="#000" stroke-width="1" />
<line x1="335" y1="768.4" x2="365.5" y2="768.4" stroke="#000" stroke-width="3" />
<path d="M255.8,777.5 L285.7,777.5 Q300,791 314.5,777.5 L339.3,777.5 Q345,783.5 351,782.5 Q357,781 363,780.9 L363,809.6 L347.2,809.6 Q344,813.6 340.4,813.6 L314.5,813.6 Q300,800 285.7,813.6 L255.8,813.6 Z" fill="#fff" stroke="#000" stroke-width="2.2" />
<path d="M286.5,778.5 Q300,788 313.7,778.5" fill="none" stroke="#000" stroke-width="1.6" />
<path d="M286.5,812.8 Q300,803 313.7,812.8" fill="none" stroke="#000" stroke-width="1.6" />
<line x1="320.3" y1="777.5" x2="320.3" y2="813.6" stroke="#000" stroke-width="2.4" />
<path d="M266.5,777.5 L268.2,771.5 Q268.5,770.5 270,770.5 L283.4,770.5 L281.7,776 Q275,778 266.5,777.5" fill="#fff" stroke="#000" stroke-width="1.8" />
<line x1="339.8" y1="768.4" x2="339.8" y2="778" stroke="#000" stroke-width="1.6" />
<line x1="360.7" y1="768.4" x2="360.7" y2="781.5" stroke="#000" stroke-width="1.6" />
<line x1="343.6" y1="812" x2="343.6" y2="1020" stroke="#000" stroke-width="2" />
<line x1="357.1" y1="809.6" x2="357.1" y2="1020" stroke="#000" stroke-width="2" />
<path d="M340.2,1020 L359.7,1020 L361.4,1053.3 L339,1053.3 Z" fill="#fff" stroke="#000" stroke-width="2" />
<line x1="356.3" y1="940.1" x2="393.5" y2="992" stroke="#000" stroke-width="1" />
<line x1="393.5" y1="992" x2="463.7" y2="992" stroke="#000" stroke-width="1" />
<path d="M356.3,940.1 L369.55,952.75 L364.02,956.71 Z" fill="#000"/>
<text x="401.2" y="987.8" font-size="22" textLength="9.6" lengthAdjust="spacingAndGlyphs">1</text>
<text x="411.4" y="987.8" font-size="22" textLength="9.6" lengthAdjust="spacingAndGlyphs">5</text>
<text x="421.6" y="987.8" font-size="22" textLength="9.6" lengthAdjust="spacingAndGlyphs">0</text>
<text x="431.8" y="987.8" font-size="22" textLength="9.6" lengthAdjust="spacingAndGlyphs">0</text>
<text x="442.1" y="987.8" font-size="22" textLength="21.3" lengthAdjust="spacingAndGlyphs">mm</text>
<line x1="214.8" y1="1114.7" x2="330.8" y2="1114.7" stroke="#000" stroke-width="1" />
<path d="M289.8,1114.7 L271.8,1118.1 L271.8,1111.3 Z" fill="#000"/>
<path d="M310.8,1114.7 L328.8,1111.3 L328.8,1118.1 Z" fill="#000"/>
<ellipse cx="222.35" cy="1103.7" rx="6.3" ry="6.85" fill="none" stroke="#000" stroke-width="1.4"/>
<line x1="215.5" y1="1113.8" x2="229.2" y2="1092.6" stroke="#000" stroke-width="1.2"/>
<text x="235.3" y="1110.8" font-size="22" textLength="9.6" lengthAdjust="spacingAndGlyphs">2</text>
<text x="245.5" y="1110.8" font-size="22" textLength="9.6" lengthAdjust="spacingAndGlyphs">4</text>
<text x="255.8" y="1110.8" font-size="22" textLength="21.3" lengthAdjust="spacingAndGlyphs">mm</text>
<line x1="289" y1="1220.5" x2="311.5" y2="1220.5" stroke="#000" stroke-width="3" />
<rect x="167" y="1079.3" width="29.7" height="133.3" rx="2" fill="#fff" stroke="#000" stroke-width="2.2"/>
<rect x="168.9" y="1082" width="26.5" height="43.8" rx="5" fill="#fff" stroke="#000" stroke-width="1.2"/>
<rect x="171.5" y="1086" width="22.5" height="37" rx="4" fill="none" stroke="#000" stroke-width="3"/>
<line x1="176.5" y1="1090" x2="176.5" y2="1119" stroke="#000" stroke-width="1.6" />
<line x1="182.2" y1="1090" x2="182.2" y2="1119" stroke="#000" stroke-width="1.6" />
<line x1="188" y1="1090" x2="188" y2="1119" stroke="#000" stroke-width="1.6" />
<line x1="173" y1="1091" x2="192" y2="1091" stroke="#000" stroke-width="1.2" />
<line x1="173" y1="1118" x2="192" y2="1118" stroke="#000" stroke-width="1.2" />
<line x1="167" y1="1212.6" x2="196.7" y2="1212.6" stroke="#000" stroke-width="3" />
<rect x="170.8" y="1213" width="22.5" height="8.6" rx="0" fill="#fff" stroke="#000" stroke-width="1.6"/>
<path d="M204.6,1221.6 A26,26 0 0 1 253.4,1221.6" fill="#fff" stroke="#000" stroke-width="2.4" />
<path d="M207.6,1221.6 A23,23 0 0 1 250.4,1221.6" fill="none" stroke="#000" stroke-width="1" />
<path d="M217.2,1221.6 Q229,1208 241,1221.6 Z" fill="#fff" stroke="#000" stroke-width="2.2" />
<path d="M220.5,1221.6 Q229,1212 237.7,1221.6" fill="none" stroke="#000" stroke-width="1" />
<path d="M346.4,1221.6 A26,26 0 0 1 395.2,1221.6" fill="#fff" stroke="#000" stroke-width="2.4" />
<path d="M349.4,1221.6 A23,23 0 0 1 392.2,1221.6" fill="none" stroke="#000" stroke-width="1" />
<path d="M359,1221.6 Q370.8,1208 382.8,1221.6 Z" fill="#fff" stroke="#000" stroke-width="2.2" />
<path d="M362.3,1221.6 Q370.8,1212 379.5,1221.6" fill="none" stroke="#000" stroke-width="1" />
<path d="M285.7,1267 L285.7,1337 L314,1337 L314,1267" fill="none" stroke="#000" stroke-width="2" />
<line x1="285.7" y1="1272.5" x2="314" y2="1272.5" stroke="#000" stroke-width="1.2" />
<line x1="285.7" y1="1286.7" x2="314" y2="1286.7" stroke="#000" stroke-width="1.2" />
<line x1="287.5" y1="1287" x2="287.5" y2="1335" stroke="#000" stroke-width="1" />
<line x1="312.2" y1="1287" x2="312.2" y2="1335" stroke="#000" stroke-width="1" />
<path d="M287,1333 Q300,1342 313,1333 L313,1337 Q300,1344 287,1337 Z" fill="#000" stroke="#000" stroke-width="1.5" />
<path d="M276.7,1257 Q286,1260 286.2,1272.5" fill="none" stroke="#000" stroke-width="2" />
<path d="M323,1257 Q314,1260 313.8,1272.5" fill="none" stroke="#000" stroke-width="2" />
<path d="M279.5,1257 Q287,1262 287.5,1270" fill="none" stroke="#000" stroke-width="1" />
<path d="M320.5,1257 Q313,1262 312.5,1270" fill="none" stroke="#000" stroke-width="1" />
<path d="M155,1221.6 L444.9,1221.6 Q446.9,1221.6 446.9,1223.6 L446.9,1265.4 Q446.9,1267.7 444.9,1267.7 L155,1267.7 Q152.7,1267.7 152.7,1265.4 L152.7,1223.6 Q152.7,1221.6 155,1221.6 Z" fill="none" stroke="#000" stroke-width="2.4" />
<line x1="156" y1="1224" x2="156" y2="1265" stroke="#000" stroke-width="1.2" />
<line x1="444" y1="1224" x2="444" y2="1265" stroke="#000" stroke-width="1.2" />
<line x1="152.7" y1="1255.4" x2="446.9" y2="1255.4" stroke="#000" stroke-width="3" />
<line x1="155" y1="1265.6" x2="445" y2="1265.6" stroke="#000" stroke-width="1" />
<line x1="200.4" y1="1221.6" x2="200.4" y2="1267.7" stroke="#000" stroke-width="2.4" />
<line x1="400" y1="1221.6" x2="400" y2="1267.7" stroke="#000" stroke-width="2.4" />
<path d="M176.5,1266 A4.5,2.8 0 0 1 185.5,1266" fill="none" stroke="#000" stroke-width="1.4" />
<path d="M421,1266 A4.5,2.8 0 0 1 430,1266" fill="none" stroke="#000" stroke-width="1.4" />
<line x1="214.6" y1="1233.5" x2="244" y2="1233.5" stroke="#000" stroke-width="1.2" />
<line x1="356.4" y1="1233.5" x2="385.8" y2="1233.5" stroke="#000" stroke-width="1.2" />
<line x1="229" y1="1221.6" x2="229" y2="1394" stroke="#333" stroke-width="1" />
<line x1="370.8" y1="1221.6" x2="370.8" y2="1394" stroke="#333" stroke-width="1" />
<path d="M337.5,1269 A12,6 0 0 1 361.5,1269" fill="#fff" stroke="#000" stroke-width="1.8" />
<rect x="339.8" y="1269" width="18.9" height="10" rx="1.5" fill="#fff" stroke="#000" stroke-width="1.8"/>
<line x1="339.8" y1="1273.5" x2="358.7" y2="1273.5" stroke="#000" stroke-width="1.4" />
<line x1="339.8" y1="1279" x2="339.8" y2="1313" stroke="#000" stroke-width="1" />
<line x1="358.7" y1="1279" x2="358.7" y2="1313" stroke="#000" stroke-width="1" />
<line x1="349.4" y1="1262" x2="349.4" y2="1289" stroke="#000" stroke-width="1" />
<line x1="319.2" y1="1307.8" x2="426.2" y2="1307.8" stroke="#000" stroke-width="1" />
<path d="M339.8,1307.8 L321.8,1311.2 L321.8,1304.4 Z" fill="#000"/>
<path d="M358.7,1307.8 L376.7,1304.4 L376.7,1311.2 Z" fill="#000"/>
<text x="383.9" y="1303.5" font-size="22" textLength="9.6" lengthAdjust="spacingAndGlyphs">G</text>
<text x="394.1" y="1303.5" font-size="22" textLength="9.6" lengthAdjust="spacingAndGlyphs">1</text>
<text x="404.3" y="1303.5" font-size="22" textLength="9.6" lengthAdjust="spacingAndGlyphs">/</text>
<text x="414.5" y="1303.5" font-size="22" textLength="9.6" lengthAdjust="spacingAndGlyphs">2</text>
<line x1="152.7" y1="1267.7" x2="152.7" y2="1436" stroke="#000" stroke-width="1" />
<line x1="446.9" y1="1267.7" x2="446.9" y2="1436" stroke="#000" stroke-width="1" />
<line x1="228.8" y1="1388.9" x2="371.6" y2="1388.9" stroke="#000" stroke-width="1" />
<path d="M228.8,1388.9 L246.8,1385.5 L246.8,1392.3 Z" fill="#000"/>
<path d="M371.6,1388.9 L353.6,1392.3 L353.6,1385.5 Z" fill="#000"/>
<text x="305.2" y="1386" font-size="22" textLength="9.6" lengthAdjust="spacingAndGlyphs">1</text>
<text x="315.4" y="1386" font-size="22" textLength="9.6" lengthAdjust="spacingAndGlyphs">5</text>
<text x="325.6" y="1386" font-size="22" textLength="9.6" lengthAdjust="spacingAndGlyphs">0</text>
<text x="335.9" y="1386" font-size="22" textLength="21.3" lengthAdjust="spacingAndGlyphs">mm</text>
<line x1="152.6" y1="1431.2" x2="447.1" y2="1431.2" stroke="#000" stroke-width="1" />
<path d="M152.6,1431.2 L170.6,1427.8 L170.6,1434.6 Z" fill="#000"/>
<path d="M447.1,1431.2 L429.1,1434.6 L429.1,1427.8 Z" fill="#000"/>
<text x="308.7" y="1428" font-size="22" textLength="9.6" lengthAdjust="spacingAndGlyphs">3</text>
<text x="318.9" y="1428" font-size="22" textLength="9.6" lengthAdjust="spacingAndGlyphs">1</text>
<text x="329.1" y="1428" font-size="22" textLength="9.6" lengthAdjust="spacingAndGlyphs">1</text>
<text x="339.4" y="1428" font-size="22" textLength="21.3" lengthAdjust="spacingAndGlyphs">mm</text>
<line x1="175.3" y1="1267.7" x2="175.3" y2="1469.6" stroke="#000" stroke-width="2" />
<line x1="188.6" y1="1267.7" x2="188.6" y2="1469.6" stroke="#000" stroke-width="2" />
<path d="M171.7,1469.6 L191.8,1469.6 L193,1498 L170.5,1498 Z" fill="#fff" stroke="#000" stroke-width="2" />
<line x1="176.9" y1="1450.2" x2="124.9" y2="1487.7" stroke="#000" stroke-width="1" />
<line x1="124.9" y1="1487.7" x2="55.6" y2="1487.7" stroke="#000" stroke-width="1" />
<path d="M176.9,1450.2 L164.29,1463.49 L160.31,1457.97 Z" fill="#000"/>
<text x="56.2" y="1484.2" font-size="22" textLength="9.6" lengthAdjust="spacingAndGlyphs">1</text>
<text x="66.4" y="1484.2" font-size="22" textLength="9.6" lengthAdjust="spacingAndGlyphs">5</text>
<text x="76.6" y="1484.2" font-size="22" textLength="9.6" lengthAdjust="spacingAndGlyphs">0</text>
<text x="86.8" y="1484.2" font-size="22" textLength="9.6" lengthAdjust="spacingAndGlyphs">0</text>
<text x="97.1" y="1484.2" font-size="22" textLength="21.3" lengthAdjust="spacingAndGlyphs">mm</text>
<line x1="731.7" y1="127.7" x2="731.7" y2="237" stroke="#000" stroke-width="1" />
<line x1="1204" y1="128.2" x2="1204" y2="271.5" stroke="#000" stroke-width="1" />
<line x1="731.7" y1="133.5" x2="1204" y2="133.5" stroke="#000" stroke-width="1" />
<path d="M731.7,133.5 L749.7,130.1 L749.7,136.9 Z" fill="#000"/>
<path d="M1204,133.5 L1186,136.9 L1186,130.1 Z" fill="#000"/>
<text x="942.1" y="129.8" font-size="22" textLength="9.6" lengthAdjust="spacingAndGlyphs">5</text>
<text x="952.3" y="129.8" font-size="22" textLength="9.6" lengthAdjust="spacingAndGlyphs">0</text>
<text x="962.5" y="129.8" font-size="22" textLength="9.6" lengthAdjust="spacingAndGlyphs">0</text>
<text x="972.8" y="129.8" font-size="22" textLength="21.3" lengthAdjust="spacingAndGlyphs">mm</text>
<line x1="537" y1="179.5" x2="789.4" y2="179.5" stroke="#000" stroke-width="1" />
<line x1="543.2" y1="179.5" x2="543.2" y2="1233.4" stroke="#000" stroke-width="1" />
<path d="M543.2,179.5 L546.6,197.5 L539.8,197.5 Z" fill="#000"/>
<path d="M543.2,557.8 L539.8,539.8 L546.6,539.8 Z" fill="#000"/>
<path d="M543.2,557.8 L546.6,575.8 L539.8,575.8 Z" fill="#000"/>
<path d="M543.2,1233.4 L539.8,1215.4 L546.6,1215.4 Z" fill="#000"/>
<line x1="537.9" y1="557.8" x2="721.8" y2="557.8" stroke="#000" stroke-width="1" />
<line x1="537.4" y1="1233.4" x2="684.6" y2="1233.4" stroke="#000" stroke-width="1" />
<g transform="translate(539.5,410.6) rotate(-90)">
<text x="0.2" y="0" font-size="22" textLength="9.6" lengthAdjust="spacingAndGlyphs">7</text>
<text x="10.4" y="0" font-size="22" textLength="9.6" lengthAdjust="spacingAndGlyphs">5</text>
<line x1="21.4" y1="-6.3" x2="29.6" y2="-6.3" stroke="#000" stroke-width="1.1"/>
<text x="30.8" y="0" font-size="22" textLength="9.6" lengthAdjust="spacingAndGlyphs">4</text>
<text x="41" y="0" font-size="22" textLength="9.6" lengthAdjust="spacingAndGlyphs">0</text>
<text x="51.2" y="0" font-size="22" textLength="9.6" lengthAdjust="spacingAndGlyphs">9</text>
<text x="61.5" y="0" font-size="22" textLength="21.3" lengthAdjust="spacingAndGlyphs">mm</text>
</g>
<g transform="translate(539.1,921.8) rotate(-90)">
<text x="0.2" y="0" font-size="22" textLength="9.6" lengthAdjust="spacingAndGlyphs">7</text>
<text x="10.4" y="0" font-size="22" textLength="9.6" lengthAdjust="spacingAndGlyphs">1</text>
<text x="20.6" y="0" font-size="22" textLength="9.6" lengthAdjust="spacingAndGlyphs">5</text>
<text x="30.9" y="0" font-size="22" textLength="21.3" lengthAdjust="spacingAndGlyphs">mm</text>
</g>
<path d="M731.7,1220 L731.7,237 A57.7,57.7 0 0 1 789.4,179.4 L1021.7,179.4 A55,55 0 0 1 1076.5,223 L1083.3,247.8" fill="none" stroke="#000" stroke-width="2.2" />
<path d="M752.6,1220 L752.6,237 A36.8,36.8 0 0 1 789.4,199.7 L1021.7,199.7 A36,36 0 0 1 1058.5,227.5 L1063,250" fill="none" stroke="#000" stroke-width="2.2" />
<line x1="789.4" y1="179.4" x2="789.4" y2="199.7" stroke="#000" stroke-width="2" />
<line x1="731.7" y1="237" x2="752.6" y2="237" stroke="#000" stroke-width="2" />
<line x1="1021.7" y1="179.4" x2="1021.7" y2="199.7" stroke="#000" stroke-width="2" />
<line x1="1058.5" y1="227.5" x2="1076.5" y2="223" stroke="#000" stroke-width="2" />
<line x1="1057.4" y1="226.8" x2="1076.4" y2="222.3" stroke="#000" stroke-width="1.6" />
<path d="M1062.6,252.9 L1086.4,247.7 L1089.3,261.3 L1065.5,267.7 Z" fill="#fff" stroke="#000" stroke-width="3.2" stroke-linejoin="round"/>
<line x1="1074.8" y1="249.7" x2="1077.1" y2="264.5" stroke="#000" stroke-width="1.4" />
<line x1="1076.5" y1="249.3" x2="1078.8" y2="264" stroke="#000" stroke-width="1.4" />
<path d="M1068.5,268 L1070.3,273.8 L1088.8,269 L1087.8,263.8" fill="#fff" stroke="#000" stroke-width="1.4" />
<line x1="1069.5" y1="270.8" x2="1088.3" y2="266.3" stroke="#000" stroke-width="1.2" />
<path d="M1059.7,276.7 L1099.3,266.4 L1106,278.5 Q1107.5,281.5 1111,281 L1061,295.5 Q1060.6,294 1060.6,292 Z" fill="#fff" stroke="#000" stroke-width="2" />
<line x1="1061.3" y1="288.3" x2="1103.8" y2="278" stroke="#000" stroke-width="1.4" />
<path d="M969,322.9 L1202.9,261.3 Q1205,261 1205,263 L1205.5,269.5 L971.3,333.2 Z" fill="#fff" stroke="#000" stroke-width="2.4" stroke-linejoin="round"/>
<line x1="970" y1="325.3" x2="1203.5" y2="263.7" stroke="#000" stroke-width="1.4" />
<line x1="563.8" y1="516.1" x2="762.4" y2="516.1" stroke="#000" stroke-width="1" />
<path d="M677.8,516.1 L659.8,519.5 L659.8,512.7 Z" fill="#000"/>
<path d="M743,516.1 L761,512.7 L761,519.5 Z" fill="#000"/>
<line x1="677.8" y1="510.5" x2="677.8" y2="529.6" stroke="#000" stroke-width="1" />
<text x="564.5" y="512.7" font-size="22" textLength="9.6" lengthAdjust="spacingAndGlyphs">6</text>
<text x="574.7" y="512.7" font-size="22" textLength="9.6" lengthAdjust="spacingAndGlyphs">8</text>
<line x1="585.7" y1="506.4" x2="593.9" y2="506.4" stroke="#000" stroke-width="1.1"/>
<text x="595.1" y="512.7" font-size="22" textLength="9.6" lengthAdjust="spacingAndGlyphs">8</text>
<text x="605.3" y="512.7" font-size="22" textLength="9.6" lengthAdjust="spacingAndGlyphs">0</text>
<text x="615.6" y="512.7" font-size="22" textLength="21.3" lengthAdjust="spacingAndGlyphs">mm</text>
<rect x="711.6" y="548" width="21.4" height="18.9" rx="0" fill="#fff" stroke="#000" stroke-width="2"/>
<rect x="689.7" y="545.4" width="21.9" height="25.3" rx="1.5" fill="#fff" stroke="#000" stroke-width="2"/>
<line x1="692" y1="546" x2="692" y2="570" stroke="#000" stroke-width="1.2" />
<rect x="677.8" y="529.2" width="11.9" height="56.8" rx="0" fill="#fff" stroke="#000" stroke-width="2"/>
<line x1="689.7" y1="529.2" x2="689.7" y2="586" stroke="#000" stroke-width="3" />
<line x1="665" y1="529.6" x2="677.8" y2="529.6" stroke="#000" stroke-width="1" />
<line x1="665" y1="586" x2="677.8" y2="586" stroke="#000" stroke-width="1" />
<line x1="670.3" y1="529.6" x2="670.3" y2="688" stroke="#000" stroke-width="1" />
<path d="M670.3,529.6 L673.7,547.6 L666.9,547.6 Z" fill="#000"/>
<path d="M670.3,586 L666.9,568 L673.7,568 Z" fill="#000"/>
<g transform="translate(666.3,689.9) rotate(-90)">
<ellipse cx="7.85" cy="-7.1" rx="6.3" ry="6.85" fill="none" stroke="#000" stroke-width="1.4"/>
<line x1="1" y1="3" x2="14.7" y2="-18.2" stroke="#000" stroke-width="1.2"/>
<text x="20.8" y="0" font-size="22" textLength="9.6" lengthAdjust="spacingAndGlyphs">5</text>
<text x="31" y="0" font-size="22" textLength="9.6" lengthAdjust="spacingAndGlyphs">9</text>
<text x="41.8" y="0" font-size="22">.</text>
<text x="51.4" y="0" font-size="22" textLength="9.6" lengthAdjust="spacingAndGlyphs">5</text>
<text x="61.7" y="0" font-size="22" textLength="21.3" lengthAdjust="spacingAndGlyphs">mm</text>
</g>
<rect x="728.5" y="527.9" width="27.1" height="69.1" rx="1.5" fill="#fff" stroke="#000" stroke-width="2.2"/>
<path d="M711.6,548 L726,548 Q733.5,550 733.5,557.5 Q733.5,565 726,566.9 L711.6,566.9" fill="#fff" stroke="#000" stroke-width="2" />
<line x1="728.5" y1="549" x2="728.5" y2="566" stroke="#000" stroke-width="1" />
<path d="M745.7,630.9 L777.5,532.6 L790.8,537.5 L759,634.5" fill="none" stroke="#000" stroke-width="3.2" />
<line x1="777.5" y1="532.6" x2="756" y2="570.8" stroke="#000" stroke-width="1.4" />
<path d="M756,634 C752,645 754,662 759.5,662 C766,662 766,650 759,634" fill="none" stroke="#000" stroke-width="2.2" />
<line x1="729.9" y1="650" x2="729.9" y2="768.2" stroke="#000" stroke-width="3" />
<line x1="754.4" y1="650" x2="754.4" y2="768.2" stroke="#000" stroke-width="3" />
<rect x="735.3" y="771" width="14" height="7" rx="0" fill="#fff" stroke="#000" stroke-width="1.6"/>
<circle cx="742.2" cy="797" r="17.6" fill="#fff" stroke="#000" stroke-width="3.6"/>
<path d="M668.3,1213 L668.3,1082 Q668.3,1080 670.3,1080 L695.3,1080 Q697.3,1080 697.3,1082 L697.3,1213" fill="#fff" stroke="#000" stroke-width="2.2" />
<line x1="668.3" y1="1080" x2="697.3" y2="1080" stroke="#000" stroke-width="3" />
<path d="M667.5,1086 Q666,1085 665.8,1090 L663,1136 Q663,1138.5 668,1139" fill="none" stroke="#000" stroke-width="3.6" />
<line x1="669.5" y1="1087" x2="668.3" y2="1139" stroke="#000" stroke-width="1.4" />
<path d="M697.3,1082 Q684.2,1085 684.2,1104 Q684.2,1124 697.3,1126" fill="none" stroke="#000" stroke-width="1.8" />
<path d="M697.3,1083 L699.8,1086 L699.8,1121 L697.3,1125" fill="none" stroke="#000" stroke-width="1.6" />
<line x1="668.3" y1="1212.6" x2="697.3" y2="1212.6" stroke="#000" stroke-width="3" />
<path d="M668,1205.4 L656.4,1205.4 L656.4,1262 L674.5,1262 L674.5,1247.5" fill="#fff" stroke="#000" stroke-width="2" />
<rect x="635.3" y="1233.4" width="16" height="19.6" rx="1.5" fill="#fff" stroke="#000" stroke-width="2.4"/>
<path d="M651.3,1239 L655.5,1231.5 L656.4,1231.5 M651.3,1250 L654,1248.5" fill="none" stroke="#000" stroke-width="1.6" />
<line x1="653.2" y1="1238" x2="653.2" y2="1250" stroke="#000" stroke-width="2.4" />
<line x1="655.6" y1="1233" x2="655.6" y2="1249" stroke="#000" stroke-width="1.4" />
<rect x="672.3" y="1214.8" width="21.8" height="32.7" rx="0" fill="#fff" stroke="#000" stroke-width="2"/>
<line x1="671.2" y1="1213.6" x2="693.7" y2="1213.6" stroke="#000" stroke-width="2.4" />
<path d="M672.3,1228 Q664,1235.5 672.3,1244" fill="none" stroke="#000" stroke-width="1.8" />
<line x1="673.5" y1="1228" x2="673.5" y2="1244" stroke="#000" stroke-width="2.4" />
<path d="M694.1,1228 Q702,1235.5 694.1,1244" fill="none" stroke="#000" stroke-width="1.8" />
<line x1="692.8" y1="1228" x2="692.8" y2="1244" stroke="#000" stroke-width="2.4" />
<line x1="620" y1="1233.4" x2="684.6" y2="1233.4" stroke="#000" stroke-width="1" />
<line x1="676" y1="1247.5" x2="676" y2="1469.2" stroke="#000" stroke-width="2" />
<line x1="689" y1="1247.5" x2="689" y2="1469.2" stroke="#000" stroke-width="2" />
<path d="M672.5,1469.2 L692.2,1469.2 L693.4,1497.9 L671.5,1497.9 Z" fill="#fff" stroke="#000" stroke-width="2" />
<line x1="595.4" y1="1205.4" x2="656.4" y2="1205.4" stroke="#000" stroke-width="1" />
<line x1="595.4" y1="1262" x2="656.4" y2="1262" stroke="#000" stroke-width="1" />
<line x1="601.4" y1="1186" x2="601.4" y2="1374" stroke="#000" stroke-width="1" />
<path d="M601.4,1205.4 L598,1187.4 L604.8,1187.4 Z" fill="#000"/>
<path d="M601.4,1262 L604.8,1280 L598,1280 Z" fill="#000"/>
<line x1="620.8" y1="1252.2" x2="635" y2="1252.2" stroke="#000" stroke-width="1" />
<line x1="626.5" y1="1213.4" x2="626.5" y2="1364.4" stroke="#000" stroke-width="1" />
<path d="M626.5,1233.4 L623.1,1215.4 L629.9,1215.4 Z" fill="#000"/>
<path d="M626.5,1252.2 L629.9,1270.2 L623.1,1270.2 Z" fill="#000"/>
<g transform="translate(599,1373.1) rotate(-90)">
<text x="0.2" y="0" font-size="22" textLength="9.6" lengthAdjust="spacingAndGlyphs">2</text>
<line x1="11.2" y1="-6.3" x2="19.4" y2="-6.3" stroke="#000" stroke-width="1.1"/>
<ellipse cx="28.25" cy="-7.1" rx="6.3" ry="6.85" fill="none" stroke="#000" stroke-width="1.4"/>
<line x1="21.4" y1="3" x2="35.1" y2="-18.2" stroke="#000" stroke-width="1.2"/>
<text x="41.2" y="0" font-size="22" textLength="9.6" lengthAdjust="spacingAndGlyphs">6</text>
<text x="51.4" y="0" font-size="22" textLength="9.6" lengthAdjust="spacingAndGlyphs">0</text>
<text x="61.7" y="0" font-size="22" textLength="21.3" lengthAdjust="spacingAndGlyphs">mm</text>
</g>
<g transform="translate(623.2,1364.4) rotate(-90)">
<text x="0.2" y="0" font-size="22" textLength="9.6" lengthAdjust="spacingAndGlyphs">2</text>
<line x1="11.2" y1="-6.3" x2="19.4" y2="-6.3" stroke="#000" stroke-width="1.1"/>
<text x="20.6" y="0" font-size="22" textLength="9.6" lengthAdjust="spacingAndGlyphs">G</text>
<text x="30.8" y="0" font-size="22" textLength="9.6" lengthAdjust="spacingAndGlyphs">1</text>
<text x="41" y="0" font-size="22" textLength="9.6" lengthAdjust="spacingAndGlyphs">/</text>
<text x="51.2" y="0" font-size="22" textLength="9.6" lengthAdjust="spacingAndGlyphs">2</text>
</g>
<line x1="730.5" y1="1219.8" x2="753.6" y2="1219.8" stroke="#000" stroke-width="2.2" />
<rect x="711" y="1212.3" width="16.7" height="6.5" rx="2" fill="#fff" stroke="#000" stroke-width="2"/>
<line x1="712" y1="1212.6" x2="726.5" y2="1212.6" stroke="#000" stroke-width="2.6" />
<path d="M698.4,1221.6 L737,1221.6 L756.2,1255.2 L755.6,1271.8 L728,1271.8 L717.5,1268 L712.2,1263.1 L707.7,1255.2 L698.4,1250 Z" fill="#fff" stroke="#000" stroke-width="2.2" />
<line x1="707.7" y1="1220.6" x2="737" y2="1220.6" stroke="#000" stroke-width="3" />
<line x1="739.3" y1="1223.5" x2="757.5" y2="1255" stroke="#000" stroke-width="1" />
<path d="M737,1222 L719,1232.5 Q709.4,1239 709.4,1249 Q710.5,1265.5 729.1,1266.5 L756.2,1255.2" fill="none" stroke="#000" stroke-width="2.2" />
<path d="M734,1226 L720.3,1235 Q712.6,1240.5 712.6,1249 Q713.5,1262.5 729.1,1263.5 L754.5,1253.3" fill="none" stroke="#000" stroke-width="1" />
<path d="M708.2,1228.7 Q700.5,1238 699.4,1249.6" fill="none" stroke="#000" stroke-width="2" />
<path d="M698.4,1228.1 L708.8,1228.1 L737,1222" fill="none" stroke="#000" stroke-width="1.2" />
<line x1="709.4" y1="1229.3" x2="715.6" y2="1233.5" stroke="#000" stroke-width="1.2" />
<line x1="716.7" y1="1227.6" x2="720.5" y2="1231.8" stroke="#000" stroke-width="1.2" />
<line x1="707.7" y1="1255.2" x2="712.2" y2="1257" stroke="#000" stroke-width="2.6" />
<line x1="717.5" y1="1266" x2="717.8" y2="1269.3" stroke="#000" stroke-width="1.2" />
<line x1="738.5" y1="1263" x2="740.5" y2="1271.5" stroke="#000" stroke-width="1" />
<line x1="754" y1="1256" x2="753.5" y2="1271.5" stroke="#000" stroke-width="1" />
<line x1="728" y1="1271.8" x2="755.6" y2="1271.8" stroke="#000" stroke-width="3" />
<rect x="719.5" y="1272.7" width="7.9" height="5.6" rx="0" fill="#fff" stroke="#000" stroke-width="1.8"/>
<line x1="729.1" y1="1271.8" x2="729.1" y2="1308.8" stroke="#000" stroke-width="2.6" />
<line x1="731" y1="1273" x2="731" y2="1307" stroke="#000" stroke-width="1" />
<line x1="728.2" y1="1308.8" x2="752.9" y2="1308.8" stroke="#000" stroke-width="2.6" />
<path d="M752.9,1308.8 Q757,1309.5 759.6,1313.1 L774.1,1333.4" fill="none" stroke="#000" stroke-width="2.4" />
<path d="M755.6,1271.8 Q753.5,1277 757,1282 L793.5,1329.6" fill="none" stroke="#000" stroke-width="2.2" />
<path d="M757.8,1272.5 Q756,1277 759.3,1281.5 L791.3,1326.8" fill="none" stroke="#000" stroke-width="1" />
<path d="M766.4,1326.7 L767.4,1337.3 L793.5,1329.6" fill="none" stroke="#000" stroke-width="2.4" />
<line x1="766.4" y1="1326.7" x2="774.1" y2="1334" stroke="#000" stroke-width="1.4" />
<rect x="732.5" y="1308.8" width="18.9" height="9.6" rx="1.5" fill="#fff" stroke="#000" stroke-width="2.2"/>
<line x1="772.7" y1="1306.4" x2="780.4" y2="1345" stroke="#000" stroke-width="1" />
<line x1="656.1" y1="1262" x2="656.1" y2="1469.8" stroke="#000" stroke-width="1" />
<line x1="742.1" y1="1318.4" x2="742.1" y2="1382.8" stroke="#000" stroke-width="1" />
<line x1="780.4" y1="1337" x2="780.4" y2="1423.4" stroke="#000" stroke-width="1" />
<line x1="792.8" y1="1330.6" x2="792.8" y2="1469.8" stroke="#000" stroke-width="1" />
<line x1="656.1" y1="1377.4" x2="742.1" y2="1377.4" stroke="#000" stroke-width="1" />
<path d="M656.1,1377.4 L674.1,1374 L674.1,1380.8 Z" fill="#000"/>
<path d="M742.1,1377.4 L724.1,1380.8 L724.1,1374 Z" fill="#000"/>
<text x="678.9" y="1374.1" font-size="22" textLength="9.6" lengthAdjust="spacingAndGlyphs">9</text>
<text x="689.1" y="1374.1" font-size="22" textLength="9.6" lengthAdjust="spacingAndGlyphs">1</text>
<text x="699.4" y="1374.1" font-size="22" textLength="21.3" lengthAdjust="spacingAndGlyphs">mm</text>
<line x1="656.1" y1="1417.6" x2="780.4" y2="1417.6" stroke="#000" stroke-width="1" />
<path d="M656.1,1417.6 L674.1,1414.2 L674.1,1421 Z" fill="#000"/>
<path d="M780.4,1417.6 L762.4,1421 L762.4,1414.2 Z" fill="#000"/>
<text x="693" y="1413.7" font-size="22" textLength="9.6" lengthAdjust="spacingAndGlyphs">1</text>
<text x="703.2" y="1413.7" font-size="22" textLength="9.6" lengthAdjust="spacingAndGlyphs">3</text>
<text x="713.4" y="1413.7" font-size="22" textLength="9.6" lengthAdjust="spacingAndGlyphs">1</text>
<text x="723.7" y="1413.7" font-size="22" textLength="21.3" lengthAdjust="spacingAndGlyphs">mm</text>
<line x1="656.1" y1="1464" x2="792.8" y2="1464" stroke="#000" stroke-width="1" />
<path d="M656.1,1464 L674.1,1460.6 L674.1,1467.4 Z" fill="#000"/>
<path d="M792.8,1464 L774.8,1467.4 L774.8,1460.6 Z" fill="#000"/>
<text x="698.8" y="1460.2" font-size="22" textLength="9.6" lengthAdjust="spacingAndGlyphs">1</text>
<text x="709" y="1460.2" font-size="22" textLength="9.6" lengthAdjust="spacingAndGlyphs">4</text>
<text x="719.2" y="1460.2" font-size="22" textLength="9.6" lengthAdjust="spacingAndGlyphs">4</text>
<text x="729.5" y="1460.2" font-size="22" textLength="21.3" lengthAdjust="spacingAndGlyphs">mm</text>
<line x1="300.1" y1="169" x2="300.1" y2="1620" stroke="#333" stroke-width="1.2" stroke-dasharray="23.5 8.5 7.5 8.5" stroke-dashoffset="0"/>
<line x1="742.2" y1="196" x2="742.2" y2="1318" stroke="#333" stroke-width="1.2" stroke-dasharray="23.5 8.5 7.5 8.5" stroke-dashoffset="0"/>
</svg></body></html>
